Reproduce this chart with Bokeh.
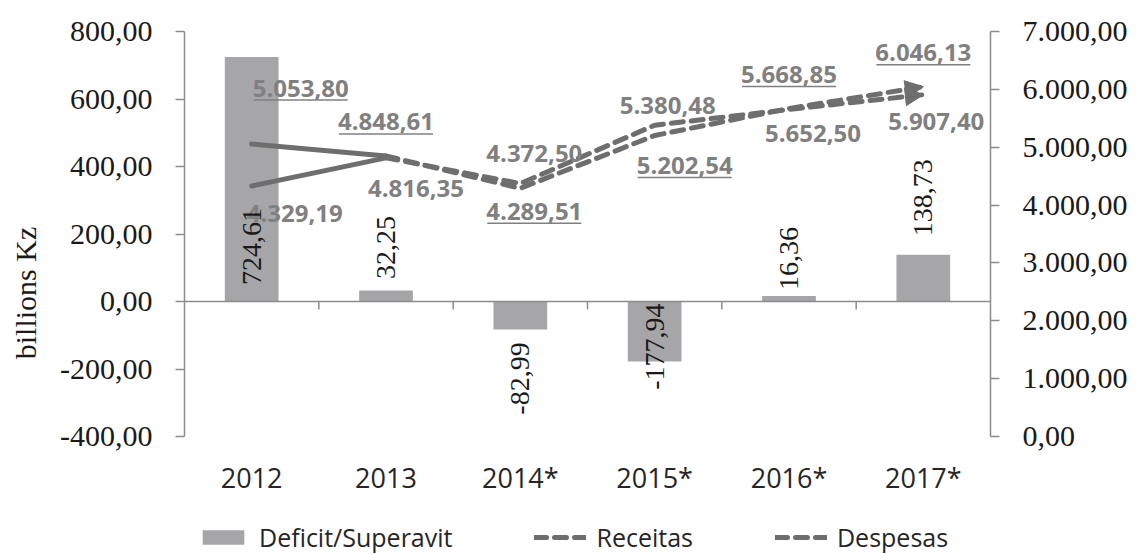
import numpy as np
from bokeh.plotting import figure
from bokeh.models import (Range1d, LinearAxis, FixedTicker, Span, Legend, LegendItem,
                          Arrow, NormalHead)
from bokeh.core.properties import value
from bokeh.embed import file_html
from bokeh.resources import INLINE

# ---------------- data ----------------
categories = ["2012", "2013", "2014*", "2015*", "2016*", "2017*"]
deficit = [724.61, 32.25, -82.99, -177.94, 16.36, 138.73]
receitas = [5053.80, 4848.61, 4289.51, 5202.54, 5668.85, 6046.13]
despesas = [4329.19, 4816.35, 4372.50, 5380.48, 5652.50, 5907.40]
left_ticks = [-400, -200, 0, 200, 400, 600, 800]
left_tick_labels = ["-400,00", "-200,00", "0,00", "200,00", "400,00", "600,00", "800,00"]
right_ticks = [0, 1000, 2000, 3000, 4000, 5000, 6000, 7000]
right_tick_labels = ["0,00", "1.000,00", "2.000,00", "3.000,00", "4.000,00",
                     "5.000,00", "6.000,00", "7.000,00"]

# ---------------- label placement (pixels, style only) ----------------
rec_dx = [49, 0, 14, 30, 0, 0]
rec_dy = [-56, -34, 23, 30, -34, -34]
des_dx = [43, 30, 14, 13, 24, 13]
des_dy = [27, 31, -30, -20, 24, 27]
bar_dy = [189.5, -43, 49, -15, -37.5, -57]


def fmt(v):
    s = f"{v:,.2f}"
    return s.replace(",", "X").replace(".", ",").replace("X", ".")


FIG_W, FIG_H = 1137, 554
TOP, LEFT, RIGHT = 31, 184, 147
PLOT_H = 405            # height of the value area (axes extent)
FRAME_W = FIG_W - LEFT - RIGHT
FRAME_H = FIG_H - TOP   # frame extends down to hold category labels + legend
n = len(categories)
xs = np.arange(n, dtype=float)
px_per_cat = FRAME_W / n
left_lo, left_hi = left_ticks[0], left_ticks[-1]
right_lo, right_hi = right_ticks[0], right_ticks[-1]
units_left = (left_hi - left_lo) / PLOT_H
units_right = (right_hi - right_lo) / PLOT_H
extra_px = FRAME_H - PLOT_H

AXIS_C = "#8c8c8c"
BAR_C = "#a6a6a8"
LINE_C = "#6e6e6e"
LAB_C = "#808080"
TXT_C = "#1a1a1a"

p = figure(width=FIG_W, height=FIG_H, x_range=Range1d(-0.5, n - 0.5),
           y_range=Range1d(left_lo - extra_px * units_left, left_hi),
           output_backend="svg", toolbar_location=None,
           min_border_left=LEFT, min_border_right=RIGHT,
           min_border_top=TOP, min_border_bottom=0)
p.extra_y_ranges = {"right": Range1d(right_lo - extra_px * units_right, right_hi)}
p.xgrid.visible = False
p.ygrid.visible = False
p.xaxis.visible = False
p.outline_line_color = None
p.background_fill_color = "white"
p.border_fill_color = "white"


def style_axis(ax):
    ax.axis_line_color = AXIS_C
    ax.axis_line_width = 1.5
    ax.major_tick_line_color = AXIS_C
    ax.major_tick_line_width = 1.5
    ax.major_tick_in = 0
    ax.major_tick_out = 9
    ax.minor_tick_line_color = None
    ax.major_label_text_font = "Liberation Serif"
    ax.major_label_text_font_size = "30px"
    ax.major_label_text_color = TXT_C
    ax.major_label_standoff = 23


# left axis
ya = p.yaxis[0]
ya.ticker = FixedTicker(ticks=left_ticks)
ya.major_label_overrides = dict(zip(left_ticks, left_tick_labels))
ya.bounds = (left_lo, left_hi)
style_axis(ya)
ya.axis_label = "billions Kz"
ya.axis_label_text_font = "Liberation Serif"
ya.axis_label_text_font_size = "30px"
ya.axis_label_text_font_style = "normal"
ya.axis_label_text_color = TXT_C
ya.axis_label_text_align = "left"
ya.axis_label_standoff = 15

# right axis
ra = LinearAxis(y_range_name="right", ticker=FixedTicker(ticks=right_ticks))
ra.major_label_overrides = dict(zip(right_ticks, right_tick_labels))
ra.bounds = (right_lo, right_hi)
style_axis(ra)
p.add_layout(ra, "right")

# zero line with category boundary ticks
p.add_layout(Span(location=0, dimension="width", line_color=AXIS_C, line_width=1.5))
bounds = xs[:-1] + 0.5
p.segment(x0=bounds, y0=np.zeros_like(bounds), x1=bounds,
          y1=np.full_like(bounds, -8 * units_left), line_color=AXIS_C, line_width=1.5)

# category labels below the value area
p.text(x=xs, y=np.full(n, float(left_lo)), text=categories, y_offset=41,
       text_font=value("Open Sans"), text_font_size="27px", text_color="#262626",
       text_align="center", text_baseline="middle")

# bars
bars = p.vbar(x=xs, top=deficit, bottom=0, width=0.4, fill_color=BAR_C, line_color=None)

# lines
lines = {}
for name, vals in (("Receitas", receitas), ("Despesas", despesas)):
    p.line(xs[:2], vals[:2], y_range_name="right", line_color=LINE_C, line_width=5,
           line_cap="round")
    lines[name] = p.line(xs[1:], vals[1:], y_range_name="right", line_color=LINE_C,
                         line_width=5, line_dash="12 8", line_cap="round")
    p.add_layout(Arrow(end=NormalHead(size=18, fill_color=LINE_C, line_color=LINE_C),
                       x_start=xs[-2], y_start=vals[-2], x_end=xs[-1], y_end=vals[-1],
                       y_range_name="right", line_alpha=0))

# value labels on lines
p.text(x=xs, y=receitas, text=[fmt(v) for v in receitas], x_offset=rec_dx, y_offset=rec_dy,
       y_range_name="right", text_font=value("Open Sans"), text_font_style="bold",
       text_font_size="24px", text_color=LAB_C, text_align="center", text_baseline="middle")
p.text(x=xs, y=despesas, text=[fmt(v) for v in despesas], x_offset=des_dx, y_offset=des_dy,
       y_range_name="right", text_font=value("Open Sans"), text_font_style="bold",
       text_font_size="24px", text_color=LAB_C, text_align="center", text_baseline="middle")

# underline of the Receitas labels
rec = np.array(receitas)
ux = xs + np.array(rec_dx) / px_per_cat
uy = rec - (np.array(rec_dy) + 12) * units_right
half = 47 / px_per_cat
p.segment(x0=ux - half, y0=uy, x1=ux + half, y1=uy, y_range_name="right",
          line_color=LAB_C, line_width=1.5)

# bar labels
dv = np.array(deficit)
p.text(x=xs, y=dv, text=[fmt(v) for v in deficit], y_offset=bar_dy, angle=np.pi / 2,
       text_font=value("Liberation Serif"), text_font_size="28px", text_color=TXT_C,
       text_align="center", text_baseline="middle")

legend = Legend(items=[LegendItem(label="Deficit/Superavit", renderers=[bars]),
                       LegendItem(label="Receitas", renderers=[lines["Receitas"]]),
                       LegendItem(label="Despesas", renderers=[lines["Despesas"]])],
                orientation="horizontal", location=(13, 0), glyph_width=52,
                glyph_height=18, label_standoff=10, spacing=82,
                label_text_font="Open Sans", label_text_font_size="25px",
                label_text_color="#262626", border_line_color=None,
                background_fill_alpha=0, margin=0, padding=0)
p.add_layout(legend, "center")

open("out.html", "w").write(file_html(p, INLINE))
